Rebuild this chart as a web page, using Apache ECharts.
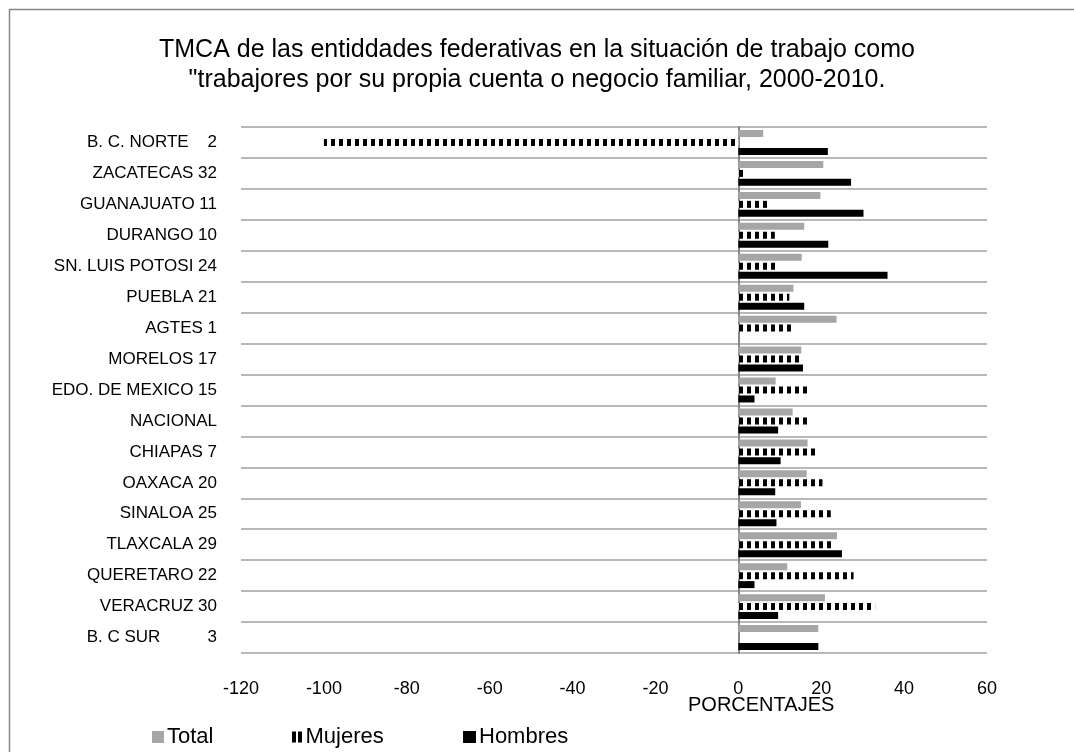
<!DOCTYPE html>
<html><head><meta charset="utf-8">
<script src="https://cdn.jsdelivr.net/npm/echarts@6/dist/echarts.min.js"></script>
<style>html,body{margin:0;padding:0;background:#fff}#c{width:1074px;height:752px}</style>
</head><body><div id="c"></div>
<script>
const categories = ["B. C. NORTE    2","ZACATECAS 32","GUANAJUATO 11","DURANGO 10","SN. LUIS POTOSI 24","PUEBLA 21","AGTES 1","MORELOS 17","EDO. DE MEXICO 15","NACIONAL","CHIAPAS 7","OAXACA 20","SINALOA 25","TLAXCALA 29","QUERETARO 22","VERACRUZ 30","B. C SUR          3"];
const total   = [6.0, 20.5, 19.8, 15.9, 15.3, 13.3, 23.7, 15.2, 9.0, 13.1, 16.7, 16.5, 15.1, 23.8, 11.8, 20.9, 19.3];
const mujeres = [-100, 1.6, 7.4, 8.8, 9.4, 12.3, 12.7, 15.0, 16.7, 16.8, 18.7, 20.3, 22.3, 23.3, 27.8, 33.0, null];
const hombres = [21.6, 27.2, 30.2, 21.7, 36.0, 15.9, null, 15.6, 3.9, 9.6, 10.2, 8.9, 9.2, 25.0, 3.9, 9.6, 19.3];
const xTicks = {min: -120, max: 60, interval: 20};

const pc = document.createElement('canvas');
pc.width = 8; pc.height = 8;
const g = pc.getContext('2d');
g.fillStyle = '#ffffff'; g.fillRect(0,0,8,8);
g.fillStyle = '#000000'; g.fillRect(3,0,4,8);
const stripe = {image: pc, repeat: 'repeat'};

const FONT = '"Liberation Sans", Arial, sans-serif';
const legText = {fontFamily: FONT, fontSize: 22, color: '#000', padding: [0,0,0,-2]};
const chart = echarts.init(document.getElementById('c'));
chart.setOption({
  animation: false,
  backgroundColor: '#fff',
  title: {
    text: 'TMCA de las entiddades federativas en la situación de trabajo como\n"trabajores por su propia cuenta o negocio familiar, 2000-2010.',
    left: 'center', top: 30,
    textStyle: {fontFamily: FONT, fontSize: 25, fontWeight: 'normal', color: '#000', lineHeight: 30}
  },
  grid: {left: 241, right: 87, top: 127, bottom: 99},
  legend: [
    {data: ['Total'], left: 147, top: 721, itemWidth: 12, itemHeight: 12, icon: 'rect', textStyle: legText},
    {data: [{name: 'Mujeres', icon: 'path://M0,0h4v11h-4z M6,0h4v11h-4z', itemStyle: {color: '#000'}}], left: 287, top: 721, itemWidth: 11, itemHeight: 11, textStyle: legText},
    {data: ['Hombres'], left: 458, top: 721, itemWidth: 13, itemHeight: 12, icon: 'rect', textStyle: legText}
  ],
  xAxis: {
    type: 'value', min: xTicks.min, max: xTicks.max, interval: xTicks.interval,
    axisLine: {show: false}, axisTick: {show: false}, splitLine: {show: false},
    axisLabel: {fontFamily: FONT, fontSize: 18, color: '#000', margin: 27}
  },
  yAxis: {
    type: 'category', data: categories, inverse: true,
    axisLine: {show: true, onZero: true, lineStyle: {color: '#868686', width: 2}},
    axisTick: {show: false},
    splitLine: {show: true, lineStyle: {color: '#a0a0a0', width: 1.6}},
    axisLabel: {fontFamily: FONT, fontSize: 17, color: '#000', margin: 24}
  },
  graphic: [
    {type: 'rect', shape: {x: 9.5, y: 9.5, width: 1100, height: 800}, style: {fill: 'none', stroke: '#888', lineWidth: 1.5}, z: 100},
    {type: 'text', left: 688, top: 695, z: 1, style: {text: 'PORCENTAJES', font: '20px ' + FONT, fill: '#000'}},
    {type: 'rect', shape: {x: 680, y: 712, width: 170, height: 10}, style: {fill: '#fff'}, z: 2}
  ],
  series: [
    {name: 'Total', type: 'bar', data: total, barWidth: 7, barGap: '28%', barCategoryGap: '19%', itemStyle: {color: '#a6a6a6'}},
    {name: 'Mujeres', type: 'bar', data: mujeres, barWidth: 7, barGap: '28%', itemStyle: {color: stripe}},
    {name: 'Hombres', type: 'bar', data: hombres, barWidth: 7, barGap: '28%', itemStyle: {color: '#000'}}
  ]
});
</script></body></html>
